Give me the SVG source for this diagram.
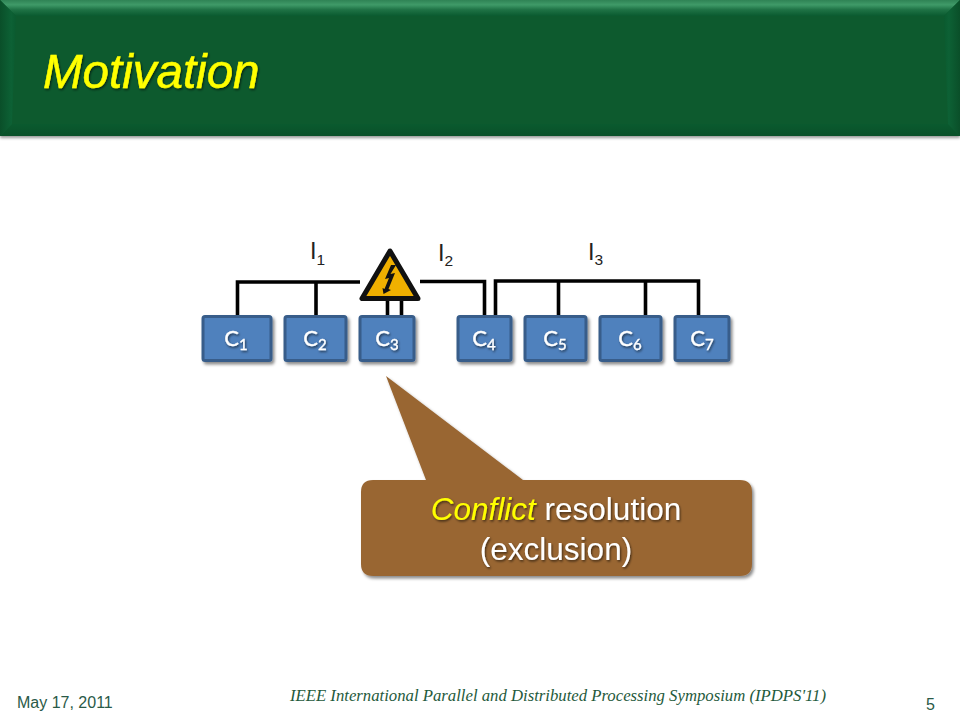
<svg xmlns="http://www.w3.org/2000/svg" width="960" height="720" viewBox="0 0 960 720">
<style>
.box{fill:#4f81bd;stroke:#385d8a;stroke-width:3;filter:url(#sh)}
.c{font-family:"Lato","Open Sans",sans-serif;font-size:22px;fill:#fff;stroke:#fff;stroke-width:.3;text-anchor:middle;filter:url(#ts)}
.c tspan{font-size:15px}
.i{font-family:"Liberation Sans",Arial,sans-serif;font-size:23.500px;fill:#222}
.i tspan{font-size:15.500px}
.w{fill:none;stroke:#000;stroke-width:3.600;stroke-linejoin:miter}
.f{font-family:"Liberation Sans",Arial,sans-serif;font-size:16px;fill:#2a5a48}
.call{font-family:"Liberation Sans",Arial,sans-serif;font-size:31.500px;fill:#fff;text-anchor:middle;filter:url(#ts)}
</style>
<defs>
<filter id="sh" x="-20%" y="-20%" width="140%" height="140%"><feDropShadow dx="2" dy="2.500" stdDeviation="1.500" flood-color="#000" flood-opacity=".45"/></filter>
<filter id="ts" x="-10%" y="-20%" width="120%" height="140%"><feDropShadow dx="1" dy="1.500" stdDeviation=".8" flood-color="#000" flood-opacity=".6"/></filter>
<filter id="hs" x="-5%" y="-5%" width="110%" height="115%"><feDropShadow dx="0" dy="2" stdDeviation="1.500" flood-color="#000" flood-opacity=".4"/></filter>
<linearGradient id="top" x1="0" y1="0" x2="0" y2="1"><stop offset="0" stop-color="#2f8355"/><stop offset=".3" stop-color="#3f9a68"/><stop offset=".6" stop-color="#1f7346"/><stop offset="1" stop-color="#0a5a2f"/></linearGradient>
<linearGradient id="bot" x1="0" y1="0" x2="0" y2="1"><stop offset="0" stop-color="#0a5a2f"/><stop offset="1" stop-color="#0a5029"/></linearGradient>
<linearGradient id="lft" x1="0" y1="0" x2="1" y2="0"><stop offset="0" stop-color="#0a4f29"/><stop offset=".7" stop-color="#0d6135"/><stop offset="1" stop-color="#0a5a2f"/></linearGradient>
<linearGradient id="rgt" x1="0" y1="0" x2="1" y2="0"><stop offset="0" stop-color="#0a5a2f"/><stop offset=".3" stop-color="#0d6135"/><stop offset="1" stop-color="#0a4f29"/></linearGradient>
</defs>
<rect width="960" height="720" fill="#fff"/>
<g id="header">
<rect x="0" y="0" width="960" height="136" fill="#0a5a2f" filter="url(#hs)"/>
<polygon points="0,0 960,0 944,16 16,16" fill="url(#top)"/>
<polygon points="0,136 960,136 948,124 12,124" fill="url(#bot)"/>
<polygon points="0,0 16,16 12,124 0,136" fill="url(#lft)"/>
<polygon points="960,0 944,16 948,124 960,136" fill="url(#rgt)"/>
<text x="43" y="88" font-family="Liberation Sans, Arial, sans-serif" font-size="47.500" font-style="italic" fill="#ffff00" stroke="#ffff00" stroke-width=".5" filter="url(#ts)">Motivation</text>
</g>
<g id="connectors">
<path class="w" d="M237.500 315V282H360"/>
<path class="w" d="M316 282V315"/>
<path class="w" d="M387.500 298V316M401.500 298V316"/>
<path class="w" d="M420 281.500H484.500V316"/>
<path class="w" d="M495.500 316V281H698.500V316"/>
<path class="w" d="M558.500 281V316M645.500 281V316"/>
</g>
<g id="warning">
<polygon points="390,251 362,298.500 418,298.500" fill="#f0b000" stroke="#111" stroke-width="5" stroke-linejoin="round"/>
<polygon points="391,265 385,279 389,278 384.500,289 382.500,288 383.500,294 391,290 388.500,289 395,273 390.500,274 396,265" fill="#111"/>
</g>
<g id="C1"><rect class="box" x="203" y="316.500" width="68" height="44" rx="2"/><text class="c" x="236" y="346">C<tspan dy="4">1</tspan></text></g>
<g id="C2"><rect class="box" x="285" y="316.500" width="61" height="44" rx="2"/><text class="c" x="315" y="346">C<tspan dy="4">2</tspan></text></g>
<g id="C3"><rect class="box" x="360" y="316.500" width="54" height="44" rx="2"/><text class="c" x="387" y="346">C<tspan dy="4">3</tspan></text></g>
<g id="C4"><rect class="box" x="458" y="316.500" width="53" height="44" rx="2"/><text class="c" x="484" y="346">C<tspan dy="4">4</tspan></text></g>
<g id="C5"><rect class="box" x="525" y="316.500" width="61" height="44" rx="2"/><text class="c" x="555" y="346">C<tspan dy="4">5</tspan></text></g>
<g id="C6"><rect class="box" x="600" y="316.500" width="61" height="44" rx="2"/><text class="c" x="630" y="346">C<tspan dy="4">6</tspan></text></g>
<g id="C7"><rect class="box" x="675" y="316.500" width="54" height="44" rx="2"/><text class="c" x="702" y="346">C<tspan dy="4">7</tspan></text></g>
<g id="I1"><text class="i" x="310" y="259">I<tspan dy="6">1</tspan></text></g>
<g id="I2"><text class="i" x="438" y="261">I<tspan dy="5">2</tspan></text></g>
<g id="I3"><text class="i" x="588" y="260">I<tspan dy="5">3</tspan></text></g>
<g id="callout">
<path d="M386 376L523 480H740Q752 480 752 492V564Q752 576 740 576H373Q361 576 361 564V492Q361 480 373 480H426Z" fill="#996633" filter="url(#sh)"/>
<text class="call" x="556" y="520"><tspan font-style="italic" fill="#ffff00">Conflict</tspan> resolution</text>
<text class="call" x="556" y="560">(exclusion)</text>
</g>
<g id="footer">
<text class="f" x="17" y="708">May 17, 2011</text>
<text x="290" y="701" font-family="Liberation Serif, serif" font-style="italic" font-size="16" fill="#1f5a3c" textLength="536" lengthAdjust="spacingAndGlyphs">IEEE International Parallel and Distributed Processing Symposium (IPDPS'11)</text>
<text class="f" x="926" y="710">5</text>
</g>
</svg>
